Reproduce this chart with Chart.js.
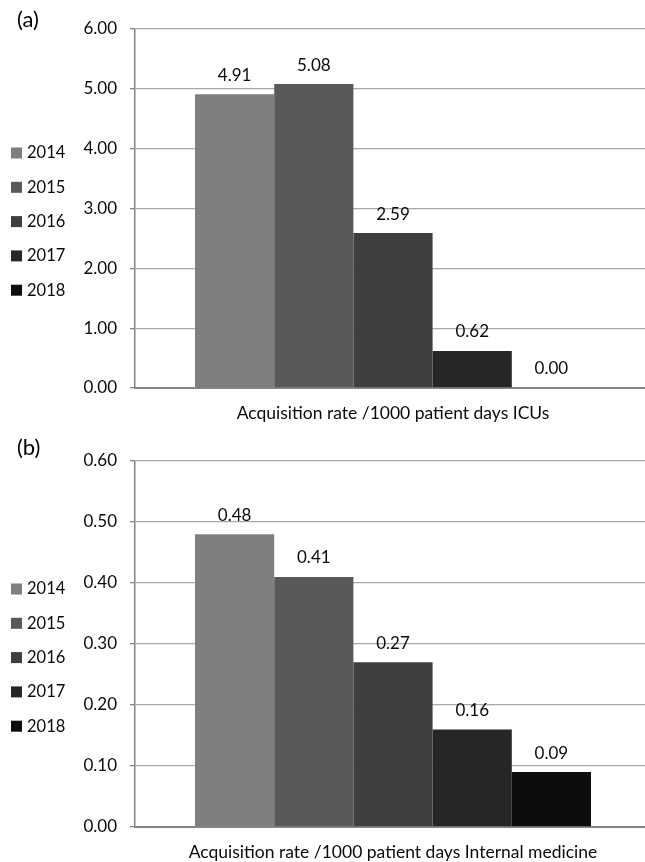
<!DOCTYPE html>
<html>
<head>
<meta charset="utf-8">
<script src="https://cdn.jsdelivr.net/npm/chart.js@4.4.1/dist/chart.umd.min.js"></script>
<style>
  html, body { margin: 0; padding: 0; background: #fff; overflow: hidden; width: 645px; height: 862px; }
  .panel { position: absolute; left: 0; width: 651px; }
  #pa { top: 0; height: 439px; }
  #pb { top: 430px; height: 448px; }
</style>
</head>
<body>
<div class="panel" id="pa"><canvas id="chartA"></canvas></div>
<div class="panel" id="pb"><canvas id="chartB"></canvas></div>
<script>
// Years shown in each panel
const years = ['2014', '2015', '2016', '2017', '2018'];
const yearColors = ['#7f7f7f', '#595959', '#3f3f3f', '#262626', '#0d0d0d'];

// Panel (a): ICUs
const icuCategory = ['Acquisition rate /1000 patient days ICUs'];
const icuRates = [4.91, 5.08, 2.59, 0.62, 0.00];
const icuTicks = [0, 1, 2, 3, 4, 5, 6];

// Panel (b): Internal medicine
const imCategory = ['Acquisition rate /1000 patient days Internal medicine'];
const imRates = [0.48, 0.41, 0.27, 0.16, 0.09];
const imTicks = [0, 0.1, 0.2, 0.3, 0.4, 0.5, 0.6];

const FONT = 'Lato, "Liberation Sans", sans-serif';
const TEXT = '#0a0a0a';

// Value labels above each bar
const valueLabels = {
  id: 'valueLabels',
  afterDatasetsDraw(chart) {
    const ctx = chart.ctx;
    ctx.save();
    ctx.font = '17px ' + FONT;
    ctx.fillStyle = TEXT;
    ctx.textAlign = 'center';
    ctx.textBaseline = 'middle';
    chart.data.datasets.forEach((ds, i) => {
      const bar = chart.getDatasetMeta(i).data[0];
      ctx.fillText(ds.data[0].toFixed(2), bar.x, bar.y - 19);
    });
    ctx.restore();
  }
};

// Legend column on the left and the panel letter
const sideLegend = {
  id: 'sideLegend',
  afterDraw(chart, args, opts) {
    const ctx = chart.ctx;
    const top = chart.chartArea.top;
    ctx.save();
    ctx.font = '22px ' + FONT;
    ctx.fillStyle = '#000';
    ctx.textAlign = 'left';
    ctx.textBaseline = 'middle';
    ctx.fillText(opts.letter, 17, top + opts.letterOffset);
    ctx.font = '16.5px ' + FONT;
    chart.data.datasets.forEach((ds, i) => {
      const cy = top + opts.firstOffset + i * 34.3;
      ctx.fillStyle = ds.backgroundColor;
      ctx.fillRect(11, cy - 5.5, 11, 11);
      ctx.fillStyle = TEXT;
      ctx.fillText(ds.label, 27, cy);
    });
    ctx.restore();
  }
};

function makeChart(id, labels, values, ticks, letter, padTop, letterOffset, firstOffset) {
  return new Chart(document.getElementById(id), {
    type: 'bar',
    data: {
      labels: labels,
      datasets: years.map((y, i) => ({
        label: y,
        data: [values[i]],
        backgroundColor: yearColors[i],
        borderWidth: 0,
        categoryPercentage: 0.7674,
        barPercentage: 1.0
      }))
    },
    options: {
      responsive: true,
      maintainAspectRatio: false,
      animation: false,
      layout: { padding: { top: padTop, left: 0, right: 0, bottom: 0 } },
      plugins: {
        legend: { display: false },
        tooltip: { enabled: false },
        sideLegend: { letter: letter, letterOffset: letterOffset, firstOffset: firstOffset }
      },
      scales: {
        x: {
          grid: { display: false, drawTicks: false },
          border: { display: true, color: '#868686', width: 2 },
          ticks: { padding: 15, color: TEXT, font: { family: FONT, size: 17.5 } }
        },
        y: {
          min: ticks[0],
          max: ticks[ticks.length - 1],
          afterFit(scale) { scale.width = 135; },
          afterBuildTicks(scale) { scale.ticks = ticks.map(v => ({ value: v })); },
          grid: { color: '#a8a8a8', lineWidth: 1.3, drawTicks: true, tickLength: 5, tickColor: '#868686' },
          border: { display: true, color: '#868686', width: 1.5 },
          ticks: {
            padding: 13,
            color: TEXT,
            font: { family: FONT, size: 17 },
            callback: v => Number(v).toFixed(2)
          }
        }
      }
    },
    plugins: [valueLabels, sideLegend]
  });
}

makeChart('chartA', icuCategory, icuRates, icuTicks, '(a)', 29, -9, 124);
makeChart('chartB', imCategory, imRates, imTicks, '(b)', 31, -13, 128);
</script>
</body>
</html>
